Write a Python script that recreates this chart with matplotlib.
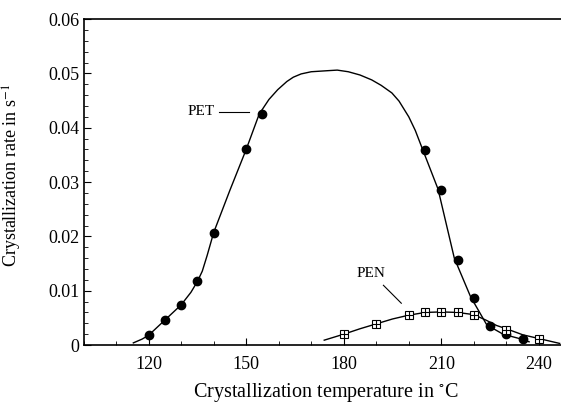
import matplotlib.pyplot as plt

plt.rcParams['font.family'] = ['Liberation Serif', 'DejaVu Serif']
plt.rcParams['mathtext.fontset'] = 'stix'

# measured points
pet_t = [120, 125, 130, 135, 140, 150, 155, 205, 210, 215, 220, 225, 230, 235]
pet_rate = [0.0018, 0.0046, 0.0074, 0.0117, 0.0207, 0.0360, 0.0425,
            0.0359, 0.0285, 0.0157, 0.0087, 0.0035, 0.0020, 0.0012]

pen_t = [180, 190, 200, 205, 210, 215, 220, 230, 240]
pen_rate = [0.0020, 0.0038, 0.0056, 0.0061, 0.0061, 0.0061, 0.0056, 0.0028, 0.0012]

# fitted curves
pet_curve_t = [115.3, 118, 120, 125, 130, 133, 135, 136.5, 138, 140, 145, 150, 154,
               157, 159.7, 162.5, 164.5, 166.9, 170, 175.2, 178, 181.4, 185, 188.6,
               191.5, 194.8, 197, 200, 202, 204, 209, 214, 219, 224, 229, 234, 237]
pet_curve_rate = [0.0004, 0.0011, 0.0018, 0.0046, 0.0074, 0.0097, 0.0117, 0.0136,
                  0.0165, 0.0207, 0.0285, 0.0360, 0.0425, 0.0452, 0.0470, 0.0485,
                  0.0493, 0.0499, 0.0503, 0.0505, 0.0506, 0.0503, 0.0497, 0.0488,
                  0.0478, 0.0464, 0.0449, 0.0420, 0.0395, 0.0364, 0.0287, 0.0160,
                  0.0089, 0.0037, 0.0020, 0.0012, 0.0006]

pen_curve_t = [174, 180, 185, 190, 195, 200, 205, 210, 215, 220, 223.7, 227,
               230, 235, 240, 246.4]
pen_curve_rate = [0.0009, 0.0020, 0.0030, 0.0039, 0.0048, 0.0055, 0.0060, 0.0061,
                  0.0060, 0.0056, 0.0046, 0.0036, 0.0030, 0.0019, 0.0012, 0.0003]

fig = plt.figure(figsize=(5.61, 4.05), dpi=100)
ax = fig.add_axes([0.149, 0.148, 0.855, 0.805])

ax.plot(pet_curve_t, pet_curve_rate, color='black', lw=1.0)
ax.plot(pen_curve_t, pen_curve_rate, color='black', lw=1.0)
ax.plot(pet_t, pet_rate, 'o', color='black', ms=6)
ax.plot(pen_t, pen_rate, 's', mfc='white', mec='black', ms=6, mew=0.8)
ax.plot(pen_t, pen_rate, '+', color='black', ms=6, mew=0.8)

# labels with leader lines
ax.text(140.2, 0.0429, 'PET', ha='right', va='center', fontsize=11)
ax.plot([141.7, 151], [0.0429, 0.0429], color='black', lw=0.8)
ax.text(188.4, 0.0132, 'PEN', ha='center', va='center', fontsize=11)
ax.plot([192.2, 197.7], [0.011, 0.0077], color='black', lw=0.8)

ax.set_xlim(100, 247.5)
ax.set_ylim(0, 0.06)
ax.set_xticks([120, 150, 180, 210, 240])
ax.set_xticks(range(100, 250, 10), minor=True)
ax.set_yticks([0, 0.01, 0.02, 0.03, 0.04, 0.05, 0.06])
ax.set_yticklabels(['0', '0.01', '0.02', '0.03', '0.04', '0.05', '0.06'])
ax.set_yticks([i * 0.002 for i in range(31)], minor=True)
ax.tick_params(which='both', direction='in', labelsize=13, top=False, right=False)
ax.tick_params(which='major', length=5)
ax.tick_params(which='minor', length=3)
ax.tick_params(axis='x', pad=8)
ax.tick_params(axis='y', pad=3)
ax.spines['right'].set_visible(False)
for s in ['left', 'bottom', 'top']:
    ax.spines[s].set_linewidth(1.2)

ax.set_xlabel('Crystallization temperature in $^{\\circ}$C', fontsize=14.5, va='baseline')
ax.set_ylabel('Crystallization rate in s$^{-1}$', fontsize=13)
ax.yaxis.set_label_coords(-0.125, 0.52)
ax.xaxis.set_label_coords(0.506, -0.16)

fig.savefig('out.png', dpi=100)
